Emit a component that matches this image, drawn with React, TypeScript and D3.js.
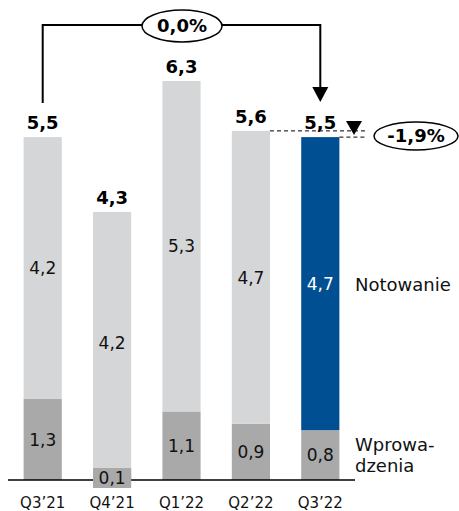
import React from "react";
import * as d3 from "d3";

const categories = ["Q3’21", "Q4’21", "Q1’22", "Q2’22", "Q3’22"];
const wprowadzenia = [1.3, 0.1, 1.1, 0.9, 0.8];
const notowanie = [4.2, 4.2, 5.3, 4.7, 4.7];
const totals = [5.5, 4.3, 6.3, 5.6, 5.5];
const fmt = (v: number) => v.toFixed(1).replace(".", ",");

const W = 459;
const H = 511;
const FONT = "Verdana, 'DejaVu Sans', sans-serif";
const LIGHT = "#d5d6d8";
const DARK = "#a9a9a9";
const BLUE = "#004f92";

export default function App() {
  const x = d3
    .scaleBand<string>()
    .domain(categories)
    .range([8, 355])
    .paddingInner(0.45)
    .paddingOuter(0.225);
  const y = d3.scaleLinear().domain([0, 6.4]).range([480, 81]);
  const bw = x.bandwidth();

  const rows = categories.map((c, i) => ({
    c,
    w: wprowadzenia[i],
    n: notowanie[i],
    t: totals[i],
    last: i === categories.length - 1,
  }));

  const cx = (c: string) => (x(c) ?? 0) + bw / 2;
  const first = categories[0];
  const last = categories[categories.length - 1];
  const prev = categories[categories.length - 2];
  const topY = 25;

  return (
    <svg
      width={W}
      height={H}
      style={{ position: "absolute", left: 0, top: 0, background: "#fff" }}
      fontFamily={FONT}
    >
      {rows.map((r) => {
        const x0 = x(r.c) ?? 0;
        const yW = y(r.w);
        const yT = y(r.w + r.n);
        return (
          <g key={r.c}>
            <rect x={x0} y={yW} width={bw} height={y(0) - yW} fill={DARK} />
            <rect x={x0} y={yT} width={bw} height={yW - yT} fill={r.last ? BLUE : LIGHT} />
            <text
              x={x0 + bw / 2}
              y={(yT + yW) / 2}
              dy="0.36em"
              textAnchor="middle"
              fontSize={17}
              fill={r.last ? "#fff" : "#111"}
            >
              {fmt(r.n)}
            </text>
            <text
              x={x0 + bw / 2}
              y={yT - 8}
              textAnchor="middle"
              fontSize={18}
              fontWeight="bold"
              fill="#000"
            >
              {fmt(r.t)}
            </text>
          </g>
        );
      })}

      {/* axis */}
      <line x1={8} x2={355} y1={y(0)} y2={y(0)} stroke="#000" strokeWidth={1.5} />

      {/* bottom labels drawn over the axis line */}
      {rows.map((r) => {
        const x0 = x(r.c) ?? 0;
        const yW = y(r.w);
        const small = r.w < 0.3;
        const ly = small ? y(0) - 2 : (yW + y(0)) / 2;
        return (
          <g key={"w" + r.c}>
            {small && <rect x={x0} y={ly - 10} width={bw} height={20} fill={DARK} />}
            <text
              x={x0 + bw / 2}
              y={ly}
              dy="0.36em"
              textAnchor="middle"
              fontSize={17}
              fill="#111"
            >
              {fmt(r.w)}
            </text>
          </g>
        );
      })}

      {categories.map((c) => (
        <text key={"c" + c} x={cx(c)} y={503} dy="0.36em" textAnchor="middle" fontSize={15} fill="#111">
          {c}
        </text>
      ))}

      {/* legend */}
      <text x={355} y={285} dy="0.36em" fontSize={18} fill="#111">Notowanie</text>
      <text x={355} y={445} dy="0.36em" fontSize={18} fill="#111">Wprowa-</text>
      <text x={355} y={466} dy="0.36em" fontSize={18} fill="#111">dzenia</text>

      {/* growth arrow */}
      <path
        d={`M${cx(first)},${y(totals[0]) - 34} V${topY} H${cx(last)} V${y(totals[4]) - 48}`}
        fill="none"
        stroke="#000"
        strokeWidth={2}
      />
      <path
        d={`M${cx(last) - 8},${y(totals[4]) - 50} L${cx(last) + 8},${y(totals[4]) - 50} L${cx(last)},${y(totals[4]) - 35} Z`}
        fill="#000"
      />
      <ellipse cx={182} cy={26} rx={40} ry={16} fill="#fff" stroke="#000" strokeWidth={1.5} />
      <text x={182} y={26} dy="0.36em" textAnchor="middle" fontSize={18} fontWeight="bold">
        0,0%
      </text>

      {/* q/q change */}
      <line x1={(x(prev) ?? 0) + bw} x2={365} y1={y(totals[3])} y2={y(totals[3])} stroke="#000" strokeDasharray="4,3" />
      <line x1={(x(last) ?? 0) + bw} x2={365} y1={y(totals[4])} y2={y(totals[4])} stroke="#000" strokeDasharray="4,3" />
      <path
        d={`M346,${y(totals[3]) - 10} L362,${y(totals[3]) - 10} L354,${y(totals[4]) - 2} Z`}
        fill="#000"
      />
      <ellipse cx={416} cy={136} rx={42} ry={14} fill="#fff" stroke="#000" strokeWidth={1.5} />
      <text x={416} y={136} dy="0.36em" textAnchor="middle" fontSize={18} fontWeight="bold">
        -1,9%
      </text>
    </svg>
  );
}
